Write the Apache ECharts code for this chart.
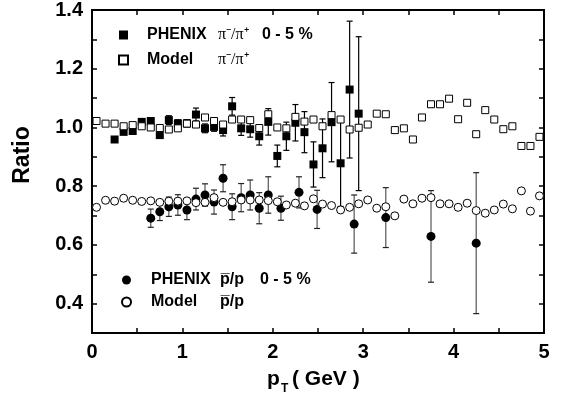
<!DOCTYPE html>
<html><head><meta charset="utf-8">
<script src="https://cdn.jsdelivr.net/npm/echarts@6/dist/echarts.min.js"></script>
<style>html,body{margin:0;padding:0;background:#fff}#c{width:564px;height:394px}</style>
</head><body><div id="c"></div>
<script>
// PHENIX pi-/pi+ 0-5% : x, ratio, error
const phenixPiX = [0.25,0.35,0.45,0.55,0.65,0.75,0.85,0.95,1.05,1.15,1.25,1.35,1.45,1.55,1.65,1.75,1.85,1.95,2.05,2.15,2.25,2.35,2.45,2.55,2.65,2.75,2.85,2.95];
const phenixPiY = [0.959,0.985,0.988,1.019,1.022,0.974,1.025,1.014,1.014,1.044,0.997,1.002,0.991,1.072,0.997,0.994,0.970,1.019,0.903,0.970,1.016,0.984,0.874,0.929,1.018,0.878,1.129,1.047];
const phenixPiErr = [0.006,0.006,0.006,0.008,0.008,0.008,0.015,0.012,0.012,0.022,0.015,0.015,0.020,0.030,0.024,0.027,0.030,0.045,0.037,0.048,0.062,0.070,0.077,0.100,0.135,0.147,0.233,0.262];

// Model pi-/pi+
const modelPiX = [0.05,0.15,0.25,0.35,0.45,0.55,0.65,0.75,0.85,0.95,1.05,1.15,1.25,1.35,1.45,1.55,1.65,1.75,1.85,1.95,2.05,2.15,2.25,2.35,2.45,2.55,2.65,2.75,2.85,2.95,3.05,3.15,3.25,3.35,3.45,3.55,3.65,3.75,3.85,3.95,4.05,4.15,4.25,4.35,4.45,4.55,4.65,4.75,4.85,4.95];
const modelPiY = [1.022,1.013,1.013,1.004,1.008,1.004,1.000,0.998,0.993,0.997,1.013,1.010,1.034,1.022,1.010,1.027,1.027,1.025,0.998,1.045,1.000,0.997,1.036,1.020,1.027,1.004,1.042,1.027,0.993,0.999,1.010,1.047,1.045,0.991,0.997,0.959,1.034,1.079,1.079,1.098,1.028,1.084,0.977,1.059,1.027,0.994,1.004,0.937,0.937,0.968];

// PHENIX pbar/p 0-5%
const phenixPX = [0.65,0.75,0.85,0.95,1.05,1.15,1.25,1.35,1.45,1.55,1.65,1.75,1.85,1.95,2.09,2.29,2.49,2.90,3.25,3.75,4.25];
const phenixPY = [0.691,0.713,0.730,0.736,0.719,0.756,0.770,0.746,0.827,0.730,0.761,0.770,0.725,0.770,0.725,0.779,0.721,0.671,0.693,0.629,0.606];
const phenixPErr = [0.031,0.030,0.033,0.035,0.033,0.037,0.038,0.041,0.046,0.044,0.048,0.051,0.053,0.062,0.041,0.053,0.065,0.099,0.102,0.156,0.240];

// Model pbar/p
const modelPX = [0.05,0.15,0.25,0.35,0.45,0.55,0.65,0.75,0.85,0.95,1.05,1.15,1.25,1.35,1.45,1.55,1.65,1.75,1.85,1.95,2.05,2.15,2.25,2.35,2.45,2.55,2.65,2.75,2.85,2.95,3.05,3.15,3.25,3.35,3.45,3.55,3.65,3.75,3.85,3.95,4.05,4.15,4.25,4.35,4.45,4.55,4.65,4.75,4.85,4.95];
const modelPY = [0.728,0.752,0.749,0.759,0.752,0.748,0.750,0.745,0.749,0.749,0.750,0.744,0.745,0.761,0.745,0.747,0.753,0.753,0.753,0.751,0.747,0.736,0.742,0.733,0.757,0.739,0.734,0.719,0.728,0.740,0.753,0.725,0.730,0.699,0.756,0.740,0.759,0.761,0.740,0.740,0.728,0.742,0.717,0.708,0.719,0.739,0.723,0.784,0.715,0.767];

const xTickLabels = ['0','1','2','3','4','5'];
const yTickLabels = ['0.4','0.6','0.8','1.0','1.2','1.4'];

const FONT = 'Liberation Sans, Arial, sans-serif';
const SERIF = 'Liberation Serif, Times New Roman, serif';

const zip = (xs, ys) => xs.map((x, i) => [x, ys[i]]);
const errData = (xs, ys, es) => xs.map((x, i) => [x, ys[i] - es[i], ys[i] + es[i]]);

function errRender(color, capColor) {
  return function (params, api) {
    const x = api.value(0), lo = api.value(1), hi = api.value(2);
    const a = api.coord([x, lo]), b = api.coord([x, hi]);
    const w = 3;
    const st = { stroke: color, lineWidth: 1.2 };
    const cs = { stroke: capColor, lineWidth: 1.2 };
    return { type: 'group', children: [
      { type: 'line', shape: { x1: a[0], y1: a[1], x2: b[0], y2: b[1] }, style: st },
      { type: 'line', shape: { x1: a[0] - w, y1: a[1], x2: a[0] + w, y2: a[1] }, style: cs },
      { type: 'line', shape: { x1: b[0] - w, y1: b[1], x2: b[0] + w, y2: b[1] }, style: cs }
    ]};
  };
}

const axisLineStyle = { show: true, onZero: false, lineStyle: { color: '#000', width: 2 } };
const tickStyle = { show: true, inside: true, length: 5, lineStyle: { color: '#000', width: 1.5 } };

const xLabelFmt = v => { const r = Math.round(v); return (Math.abs(v - r) < 1e-6 && xTickLabels[r] !== undefined) ? xTickLabels[r] : ''; };
const yLabelFmt = v => { const s = (Math.round(v * 10) / 10).toFixed(1); return yTickLabels.indexOf(s) >= 0 ? s : ''; };

const chart = echarts.init(document.getElementById('c'), null, { renderer: 'canvas' });

chart.setOption({
  animation: false,
  backgroundColor: '#fff',
  grid: { left: 92, right: 20, top: 9, bottom: 61, show: true, borderColor: '#000', borderWidth: 2, backgroundColor: 'transparent' },
  xAxis: [
    { type: 'value', min: 0, max: 5, interval: 0.5, position: 'bottom',
      axisLine: axisLineStyle, axisTick: tickStyle, splitLine: { show: false },
      axisLabel: { formatter: xLabelFmt, margin: 9, color: '#000', fontFamily: FONT, fontWeight: 'bold', fontSize: 20, showMinLabel: true, showMaxLabel: true } },
    { type: 'value', min: 0, max: 5, interval: 0.5, position: 'top',
      axisLine: axisLineStyle, axisTick: tickStyle, splitLine: { show: false }, axisLabel: { show: false } }
  ],
  yAxis: [
    { type: 'value', min: 0.3, max: 1.4, interval: 0.1, position: 'left',
      axisLine: axisLineStyle, axisTick: tickStyle, splitLine: { show: false },
      axisLabel: { formatter: yLabelFmt, margin: 9, color: '#000', fontFamily: FONT, fontWeight: 'bold', fontSize: 20, showMinLabel: true, showMaxLabel: true } },
    { type: 'value', min: 0.3, max: 1.4, interval: 0.1, position: 'right',
      axisLine: axisLineStyle, axisTick: tickStyle, splitLine: { show: false }, axisLabel: { show: false } }
  ],
  legend: [
    { data: ['PHENIX pi', 'Model pi'], orient: 'vertical', left: 113, top: 22, itemWidth: 9, itemHeight: 9, itemGap: 9,
      selectedMode: false,
      formatter: n => n === 'PHENIX pi' ? '{sp|}{a|PHENIX}{b|π⁻/π⁺}{c|0 - 5 %}' : '{sp|}{a|Model}{b|π⁻/π⁺}',
      textStyle: { color: '#000', rich: {
        sp: { width: 14, height: 20 },
        a: { width: 71, fontFamily: FONT, fontWeight: 'bold', fontSize: 16, lineHeight: 20, color: '#000' },
        b: { width: 44, fontFamily: SERIF, fontSize: 16, lineHeight: 20, color: '#000' },
        c: { fontFamily: FONT, fontWeight: 'bold', fontSize: 16, lineHeight: 20, color: '#000' }
      } } },
    { data: ['PHENIX p', 'Model p'], orient: 'vertical', left: 116, top: 267, itemWidth: 9, itemHeight: 9, itemGap: 6,
      selectedMode: false,
      formatter: n => n === 'PHENIX p' ? '{sp|}{a|PHENIX}{b|p̅/p}{c|0 - 5 %}' : '{sp|}{a|Model}{b|p̅/p}',
      textStyle: { color: '#000', rich: {
        sp: { width: 15, height: 20 },
        a: { width: 69, fontFamily: FONT, fontWeight: 'bold', fontSize: 16, lineHeight: 20, color: '#000' },
        b: { width: 40, fontFamily: FONT, fontWeight: 'bold', fontSize: 16, lineHeight: 20, color: '#000' },
        c: { fontFamily: FONT, fontWeight: 'bold', fontSize: 16, lineHeight: 20, color: '#000' }
      } } }
  ],
  graphic: [
    { type: 'text', x: 23, y: 155, rotation: Math.PI / 2, silent: true,
      style: { text: 'Ratio', font: 'bold 23px ' + FONT, fill: '#000', align: 'center', verticalAlign: 'middle' } },
    { type: 'text', x: 267, y: 379, silent: true,
      style: { text: 'p', font: 'bold 21px ' + FONT, fill: '#000', align: 'left', verticalAlign: 'middle' } },
    { type: 'text', x: 281, y: 389, silent: true,
      style: { text: 'T', font: 'bold 12px ' + FONT, fill: '#000', align: 'left', verticalAlign: 'middle' } },
    { type: 'text', x: 292, y: 379, silent: true,
      style: { text: '( GeV )', font: 'bold 21px ' + FONT, fill: '#000', align: 'left', verticalAlign: 'middle' } }
  ],
  series: [
    { name: 'errPi', type: 'custom', renderItem: errRender('#000', '#000'), data: errData(phenixPiX, phenixPiY, phenixPiErr),
      encode: { x: 0, y: [1, 2] }, clip: true, z: 2 },
    { name: 'errP', type: 'custom', renderItem: errRender('#555', '#222'), data: errData(phenixPX, phenixPY, phenixPErr),
      encode: { x: 0, y: [1, 2] }, clip: true, z: 2 },
    { name: 'PHENIX pi', type: 'scatter', symbol: 'rect', symbolSize: 8, data: zip(phenixPiX, phenixPiY),
      itemStyle: { color: '#000', opacity: 1 }, z: 3 },
    { name: 'PHENIX p', type: 'scatter', symbol: 'circle', symbolSize: 9, data: zip(phenixPX, phenixPY),
      itemStyle: { color: '#000', opacity: 1 }, z: 3 },
    { name: 'Model pi', type: 'scatter', symbol: 'rect', symbolSize: 7, data: zip(modelPiX, modelPiY),
      itemStyle: { color: '#fff', borderColor: '#000', borderWidth: 1, opacity: 1 }, z: 4 },
    { name: 'Model p', type: 'scatter', symbol: 'circle', symbolSize: 8, data: zip(modelPX, modelPY),
      itemStyle: { color: '#fff', borderColor: '#000', borderWidth: 1, opacity: 1 }, z: 4 }
  ]
});
</script>
</body></html>
